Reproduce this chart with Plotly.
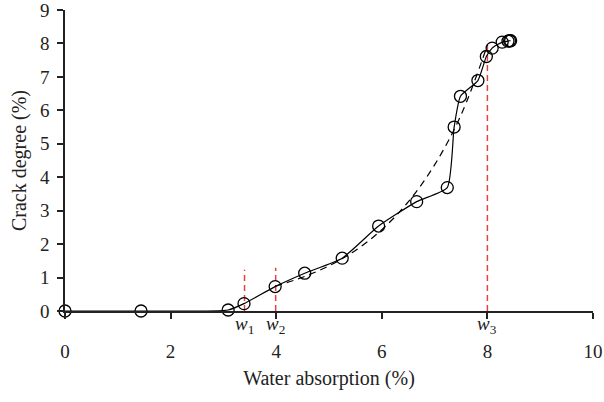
import plotly.graph_objects as go

# measured data (solid curve with circle markers)
water = [0.0, 1.44, 3.09, 3.39, 3.98, 4.54, 5.25, 5.94, 6.66, 7.24, 7.37, 7.49, 7.82, 7.98, 8.09, 8.28, 8.39, 8.42, 8.44]
crack = [0.0, 0.0, 0.03, 0.22, 0.73, 1.13, 1.58, 2.54, 3.27, 3.69, 5.50, 6.42, 6.89, 7.61, 7.86, 8.04, 8.07, 8.08, 8.08]

# fitted trend (dashed curve)
fit_x = [3.98, 4.5, 5.0, 5.5, 6.0, 6.5, 7.0, 7.5, 8.0]
fit_y = [0.74, 1.01, 1.35, 1.81, 2.43, 3.26, 4.37, 5.86, 7.95]

# threshold markers
w_labels = ["1", "2", "3"]
w_x = [3.40, 3.99, 8.0]
w_top = [1.23, 1.29, 8.08]

x_ticks = [0, 2, 4, 6, 8, 10]
y_ticks = list(range(0, 10))

FONT = "Liberation Serif"
FS = 19
TFS = 20

fig = go.Figure()

for xv, top in zip(w_x, w_top):
    fig.add_trace(go.Scatter(x=[xv, xv], y=[0, top], mode="lines",
                             line=dict(color="#e0453c", width=1.5, dash="6px,4px"),
                             showlegend=False, hoverinfo="skip"))

fig.add_trace(go.Scatter(x=fit_x, y=fit_y, mode="lines",
                         line=dict(color="black", width=1.2, dash="7px,5px", shape="spline"),
                         showlegend=False))

fig.add_trace(go.Scatter(x=water, y=crack, mode="lines+markers",
                         line=dict(color="black", width=1.2, shape="spline", smoothing=0.5),
                         marker=dict(symbol="circle-open", size=12, color="black",
                                     line=dict(width=1.3, color="black")),
                         cliponaxis=False, showlegend=False))

for lab, xv in zip(w_labels, w_x):
    fig.add_annotation(x=xv, y=0, xref="x", yref="y", yanchor="top", yshift=0,
                       text=f"<i>w</i><sub>{lab}</sub>", showarrow=False,
                       font=dict(family=FONT, size=FS, color="#222"))

fig.update_layout(
    width=604, height=402,
    margin=dict(l=65, r=11, t=10, b=91),
    plot_bgcolor="white", paper_bgcolor="white",
    font=dict(family=FONT, size=FS, color="#222"),
    xaxis=dict(range=[0, 10], tickvals=x_ticks, ticks="outside", ticklen=6, tickwidth=1.5,
               tickcolor="#222", showline=True, linecolor="#222", linewidth=1.5,
               showgrid=False, zeroline=False, ticklabelstandoff=16, automargin=False,
               ticklabeloverflow="allow",
               title=dict(text="Water absorption (%)", standoff=10,
                          font=dict(family=FONT, size=TFS))),
    yaxis=dict(range=[0, 9], tickvals=y_ticks, ticks="outside", ticklen=6, tickwidth=1.5,
               tickcolor="#222", showline=True, linecolor="#222", linewidth=1.5,
               showgrid=False, zeroline=False, ticklabelstandoff=4, automargin=False,
               ticklabeloverflow="allow",
               title=dict(text="Crack degree (%)", standoff=8,
                          font=dict(family=FONT, size=TFS))),
)

fig.write_html("out.html")
